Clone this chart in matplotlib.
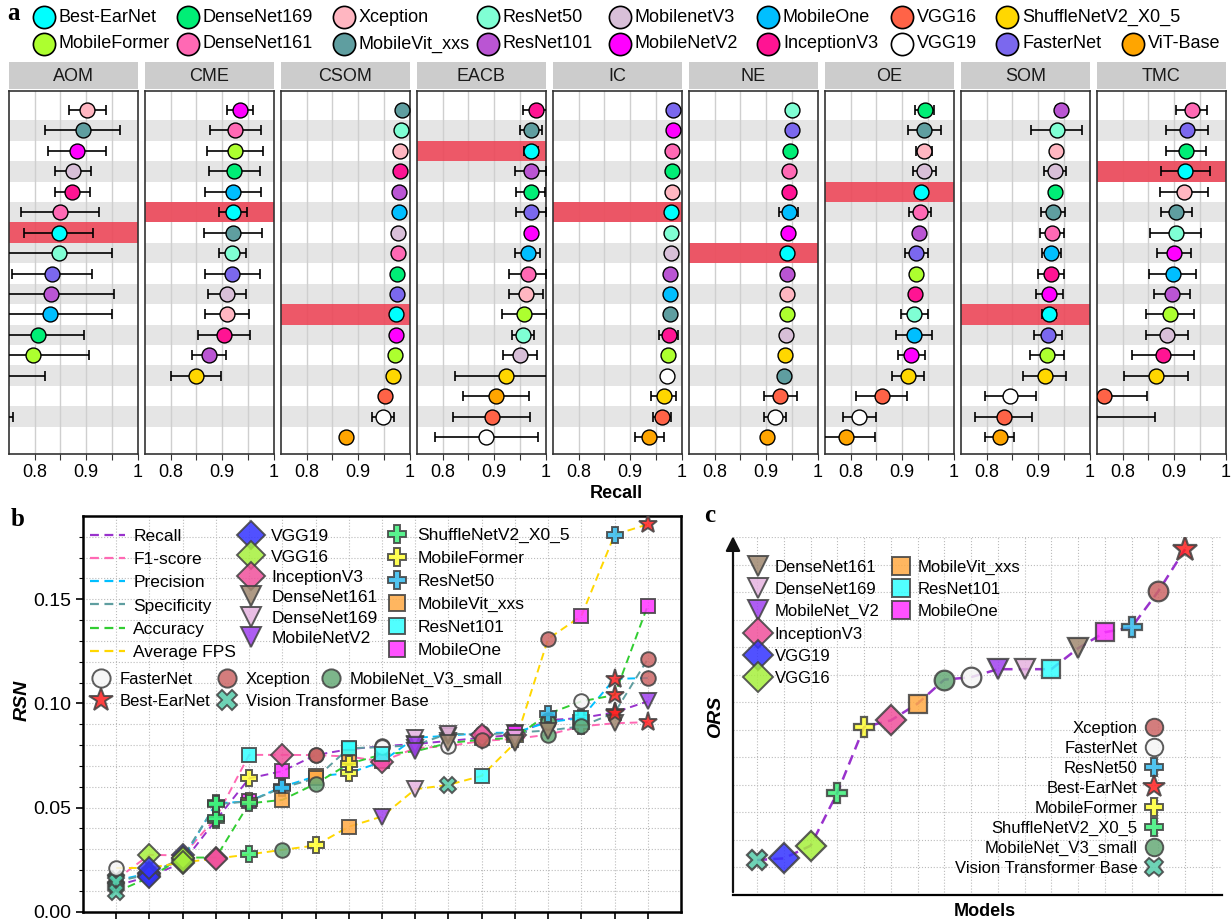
import matplotlib.pyplot as plt
from matplotlib.lines import Line2D
import numpy as np

plt.rcParams['font.family'] = ['Liberation Sans', 'DejaVu Sans']

W, H = 1231, 924
fig = plt.figure(figsize=(W / 100, H / 100), dpi=100)


def fx(px):
    return px / W


def fy(py):
    return 1 - py / H


# ---------------- panel a data: (model, recall, error) top to bottom ----------------
facets = ['AOM', 'CME', 'CSOM', 'EACB', 'IC', 'NE', 'OE', 'SOM', 'TMC']

AOM = [('Xception', .902, .036), ('MobileVit_xxs', .893, .072), ('MobileNetV2', .882, .057),
       ('MobilenetV3', .875, .035), ('InceptionV3', .873, .034), ('DenseNet161', .850, .076),
       ('Best-EarNet', .847, .067), ('ResNet50', .847, .103), ('FasterNet', .833, .078),
       ('ResNet101', .831, .124), ('MobileOne', .830, .120), ('DenseNet169', .806, .090),
       ('MobileFormer', .796, .110), ('ShuffleNetV2_X0_5', .700, .120), ('VGG16', .600, .050),
       ('VGG19', .700, .058), ('ViT-Base', .550, .050)]
CME = [('MobileNetV2', .935, .026), ('DenseNet161', .926, .049), ('MobileFormer', .925, .054),
       ('DenseNet169', .924, .050), ('MobileOne', .921, .054), ('Best-EarNet', .921, .028),
       ('MobileVit_xxs', .921, .056), ('ResNet50', .920, .027), ('FasterNet', .920, .053),
       ('MobilenetV3', .910, .037), ('Xception', .910, .043), ('InceptionV3', .904, .051),
       ('ResNet101', .874, .033), ('ShuffleNetV2_X0_5', .849, .049), ('VGG16', .650, .050),
       ('VGG19', .620, .040), ('ViT-Base', .600, .050)]
CSOM = [('MobileVit_xxs', .985, 0), ('ResNet50', .983, 0), ('Xception', .982, 0),
        ('InceptionV3', .981, .004), ('ResNet101', .980, 0), ('MobileOne', .979, 0),
        ('MobilenetV3', .978, 0), ('DenseNet161', .978, 0), ('DenseNet169', .976, 0),
        ('FasterNet', .976, 0), ('Best-EarNet', .973, 0), ('MobileNetV2', .973, .004),
        ('MobileFormer', .972, 0), ('ShuffleNetV2_X0_5', .967, 0), ('VGG16', .952, 0),
        ('VGG19', .949, .021), ('ViT-Base', .877, 0)]
EACB = [('InceptionV3', .981, .025), ('MobileVit_xxs', .972, .021), ('Best-EarNet', .972, .014),
        ('ResNet101', .971, .030), ('DenseNet169', .971, .028), ('FasterNet', .971, .029),
        ('MobileNetV2', .971, 0), ('MobileOne', .965, .025), ('DenseNet161', .965, .036),
        ('Xception', .962, .033), ('MobileFormer', .959, .043), ('ResNet50', .956, .022),
        ('MobilenetV3', .951, .033), ('ShuffleNetV2_X0_5', .924, .100), ('ViT-Base', .903, .064),
        ('VGG16', .895, .075), ('VGG19', .885, .100)]
IC = [('FasterNet', .984, 0), ('MobileNetV2', .984, 0), ('DenseNet161', .981, 0),
      ('DenseNet169', .981, 0), ('Xception', .981, 0), ('Best-EarNet', .980, 0),
      ('ResNet50', .979, 0), ('MobilenetV3', .979, 0), ('ResNet101', .978, 0),
      ('MobileOne', .977, 0), ('MobileVit_xxs', .977, 0), ('InceptionV3', .975, .019),
      ('MobileFormer', .974, 0), ('VGG19', .971, 0), ('ShuffleNetV2_X0_5', .965, .025),
      ('VGG16', .962, .018), ('ViT-Base', .937, .028)]
NE = [('ResNet50', .950, 0), ('FasterNet', .950, 0), ('DenseNet169', .946, 0),
      ('DenseNet161', .945, 0), ('InceptionV3', .944, 0), ('MobileOne', .944, .018),
      ('MobileNetV2', .943, 0), ('Best-EarNet', .941, 0), ('ResNet101', .941, 0),
      ('Xception', .941, 0), ('MobileFormer', .941, 0), ('MobilenetV3', .938, 0),
      ('ShuffleNetV2_X0_5', .937, 0), ('MobileVit_xxs', .935, 0), ('VGG16', .928, .032),
      ('VGG19', .917, .022), ('ViT-Base', .901, 0)]
OE = [('DenseNet169', .944, .019), ('MobileVit_xxs', .943, .032), ('Xception', .943, .016),
      ('MobilenetV3', .943, .022), ('Best-EarNet', .937, 0), ('DenseNet161', .935, .021),
      ('ResNet101', .933, 0), ('FasterNet', .928, .023), ('MobileFormer', .927, 0),
      ('InceptionV3', .926, 0), ('ResNet50', .924, .026), ('MobileOne', .924, .035),
      ('MobileNetV2', .918, .026), ('ShuffleNetV2_X0_5', .911, .031), ('VGG16', .860, .050),
      ('VGG19', .817, .032), ('ViT-Base', .790, .058)]
SOM = [('ResNet101', .944, .010), ('ResNet50', .936, .050), ('Xception', .935, 0),
       ('MobilenetV3', .933, .021), ('DenseNet169', .932, 0), ('MobileVit_xxs', .929, .023),
       ('DenseNet161', .927, .024), ('MobileOne', .926, .018), ('InceptionV3', .925, .025),
       ('MobileNetV2', .922, .026), ('Best-EarNet', .921, .014), ('FasterNet', .919, .027),
       ('MobileFormer', .917, .033), ('ShuffleNetV2_X0_5', .913, .042), ('VGG19', .846, .049),
       ('VGG16', .833, .055), ('ViT-Base', .825, .029)]
TMC = [('DenseNet161', .934, .030), ('FasterNet', .925, .040), ('DenseNet169', .924, .039),
       ('Best-EarNet', .922, .047), ('Xception', .919, .046), ('MobileVit_xxs', .904, .030),
       ('ResNet50', .903, .049), ('MobileNetV2', .900, .033), ('MobileOne', .897, .045),
       ('ResNet101', .895, .035), ('MobileFormer', .892, .047), ('MobilenetV3', .887, .041),
       ('InceptionV3', .878, .060), ('ShuffleNetV2_X0_5', .865, .063), ('VGG16', .763, .085),
       ('VGG19', .735, .128), ('ViT-Base', .600, .050)]
facet_rows = dict(zip(facets, [AOM, CME, CSOM, EACB, IC, NE, OE, SOM, TMC]))

a_colors = {
    'Best-EarNet': '#00FFFF', 'DenseNet169': '#00EE76', 'Xception': '#FFB6C1',
    'ResNet50': '#7FFFD4', 'MobilenetV3': '#D8BFD8', 'MobileOne': '#00BFFF',
    'VGG16': '#FF6347', 'ShuffleNetV2_X0_5': '#FFD700', 'MobileFormer': '#ADFF2F',
    'DenseNet161': '#FF69B4', 'MobileVit_xxs': '#5F9EA0', 'ResNet101': '#BA55D3',
    'MobileNetV2': '#FF00FF', 'InceptionV3': '#FF1493', 'VGG19': '#FFFFFF',
    'FasterNet': '#7B68EE', 'ViT-Base': '#FFA500'}

legend_row1 = ['Best-EarNet', 'DenseNet169', 'Xception', 'ResNet50', 'MobilenetV3',
               'MobileOne', 'VGG16', 'ShuffleNetV2_X0_5']
legend_row2 = ['MobileFormer', 'DenseNet161', 'MobileVit_xxs', 'ResNet101', 'MobileNetV2',
               'InceptionV3', 'VGG19', 'FasterNet', 'ViT-Base']

# ---------------- panel b data: models in rank order and RSN per metric ----------------
recall_models = ['ViT', 'VGG19', 'VGG16', 'ShuffleNet', 'MobileFormer', 'MobileOne', 'Xception',
                 'ResNet101', 'FasterNet', 'DenseNet169', 'DenseNet161', 'MobileVit',
                 'InceptionV3', 'MNV3s', 'ResNet50', 'Best', 'MobileNetV2']
recall_rsn = [0.0125, 0.017, 0.0235, 0.044, 0.064, 0.0675, 0.0752, 0.078, 0.0795, 0.0805,
              0.082, 0.0835, 0.085, 0.092, 0.093, 0.0957, 0.101]
f1_models = ['ViT', 'VGG16', 'VGG19', 'ShuffleNet', 'ResNet101', 'InceptionV3', 'Xception',
             'MobileVit', 'MobileOne', 'MobileNetV2', 'FasterNet', 'DenseNet169', 'MobileFormer',
             'MNV3s', 'ResNet50', 'DenseNet161', 'Best']
f1_rsn = [0.0155, 0.0273, 0.027, 0.045, 0.0753, 0.0753, 0.0752, 0.0745, 0.0722, 0.0785,
          0.0795, 0.082, 0.083, 0.085, 0.089, 0.0905, 0.091]
precision_models = ['ViT', 'VGG19', 'VGG16', 'ShuffleNet', 'MobileOne', 'ResNet50', 'MobileVit',
                    'MobileFormer', 'InceptionV3', 'DenseNet169', 'DenseNet161', 'FasterNet',
                    'MobileNetV2', 'MNV3s', 'ResNet101', 'Best', 'Xception']
precision_rsn = [0.015, 0.0185, 0.025, 0.052, 0.053, 0.060, 0.065, 0.0665, 0.072, 0.0835,
                 0.0845, 0.0858, 0.086, 0.091, 0.093, 0.1118, 0.1122]
specificity_models = ['ViT', 'VGG19', 'VGG16', 'ShuffleNet', 'MobileFormer', 'ResNet50',
                      'MobileVit', 'ResNet101', 'FasterNet', 'MobileNetV2', 'DenseNet169',
                      'InceptionV3', 'MobileOne', 'DenseNet161', 'MNV3s', 'Best', 'Xception']
specificity_rsn = [0.0145, 0.018, 0.026, 0.0515, 0.053, 0.0595, 0.064, 0.0785, 0.079, 0.080,
                   0.0855, 0.085, 0.086, 0.087, 0.089, 0.0955, 0.1213]
accuracy_models = ['ViT', 'VGG19', 'VGG16', 'InceptionV3', 'ShuffleNet', 'MobileVit', 'MNV3s',
                   'MobileFormer', 'ResNet101', 'MobileNetV2', 'DenseNet161', 'Xception',
                   'DenseNet169', 'ResNet50', 'FasterNet', 'Best', 'MobileOne']
accuracy_rsn = [0.0095, 0.0165, 0.026, 0.026, 0.052, 0.0537, 0.0614, 0.071, 0.0755, 0.077,
                0.081, 0.0826, 0.0835, 0.095, 0.101, 0.104, 0.147]
fps_models = ['FasterNet', 'VGG19', 'VGG16', 'InceptionV3', 'ShuffleNet', 'MNV3s', 'MobileFormer',
              'MobileVit', 'MobileNetV2', 'DenseNet169', 'ViT', 'ResNet101', 'DenseNet161',
              'Xception', 'MobileOne', 'ResNet50', 'Best']
fps_rsn = [0.021, 0.021, 0.0237, 0.0255, 0.0275, 0.0297, 0.0318, 0.0408, 0.0457, 0.0588,
           0.0609, 0.0652, 0.081, 0.131, 0.142, 0.181, 0.186]

metric_names = ['Recall', 'F1-score', 'Precision', 'Specificity', 'Accuracy', 'Average FPS']
metric_colors = ['#9932CC', '#FF69B4', '#00BFFF', '#5F9EA0', '#32CD32', '#FFD700']

# ---------------- panel c data ----------------
ors_models = ['ViT', 'VGG19', 'VGG16', 'ShuffleNet', 'MobileFormer', 'InceptionV3', 'MobileVit',
              'MNV3s', 'FasterNet', 'MobileNetV2', 'DenseNet169', 'ResNet101', 'DenseNet161',
              'MobileOne', 'ResNet50', 'Xception', 'Best']
ors_score = [1.27, 1.33, 1.79, 3.71, 6.10, 6.34, 6.95, 7.82, 7.91, 8.20, 8.20, 8.20, 8.96,
             9.54, 9.72, 11.03, 12.56]

# marker, face colour, size for panels b and c
mstyle = {
    'VGG19': ('D', '#3333FF', 11), 'VGG16': ('D', '#A6F03C', 11), 'InceptionV3': ('D', '#F0509B', 11),
    'DenseNet161': ('v', '#A08870', 11), 'DenseNet169': ('v', '#E6B3E0', 11),
    'MobileNetV2': ('v', '#A040F0', 11), 'ShuffleNet': ('P', '#3CF07A', 11),
    'MobileFormer': ('P', '#FFFF33', 11), 'ResNet50': ('P', '#33BBEE', 11),
    'MobileVit': ('s', '#FFAA44', 10), 'ResNet101': ('s', '#33FFFF', 10),
    'MobileOne': ('s', '#FF33FF', 10), 'FasterNet': ('o', '#F5F5F5', 10.5),
    'Best': ('*', '#FF2020', 14), 'Xception': ('o', '#CC6666', 10.5),
    'MNV3s': ('o', '#66AA77', 10.5), 'ViT': ('X', '#55CCAA', 11)}
b_labels = {'ShuffleNet': 'ShuffleNetV2_X0_5', 'MobileVit': 'MobileVit_xxs', 'Best': 'Best-EarNet',
            'MNV3s': 'MobileNet_V3_small', 'ViT': 'Vision Transformer Base'}


def marker_handle(m, scale=1.0, label=None):
    mk, col, ms = mstyle[m]
    return Line2D([], [], ls='none', marker=mk, ms=ms * scale, mfc=col, mec='#404040', mew=1.4,
                  alpha=0.85, label=label if label else b_labels.get(m, m))


# ================= panel a =================
for i, name in enumerate(facets):
    left = 9 + 136 * i
    ax = fig.add_axes([fx(left), fy(454), fx(128.5), (454 - 91) / H])
    rows = facet_rows[name]
    for r in range(2, len(rows) + 1, 2):
        ax.axhspan(r - 0.5, r + 0.5, color='#E5E5E5', lw=0, zorder=0)
    for gx in [0.8, 0.85, 0.9, 0.95]:
        ax.axvline(gx, color='#CFCFCF', lw=1, zorder=1)
    for r, (m, v, e) in enumerate(rows, start=1):
        if m == 'Best-EarNet':
            ax.axhspan(r - 0.5, r + 0.5, color='#EC4A5B', alpha=0.92, lw=0, zorder=2)
        if e > 0:
            ax.errorbar(v, r, xerr=e, fmt='none', ecolor='black', elinewidth=1.2,
                        capsize=3.5, capthick=1.2, zorder=3)
        ax.scatter(v, r, s=115, c=a_colors[m], edgecolors='black', linewidths=1, zorder=4)
    ax.set_xlim(0.75, 1.0)
    ax.set_ylim(17.83, 0.07)
    ax.set_yticks([])
    ax.set_xticks([0.8, 0.85, 0.9, 0.95, 1.0])
    ax.set_xticklabels(['0.8', '', '0.9', '', '1'])
    ax.tick_params(axis='x', direction='out', length=4, labelsize=13, color='#333333', pad=3)
    for s in ax.spines.values():
        s.set_color('#333333')
        s.set_linewidth(1.2)
    st = fig.add_axes([fx(left), fy(89), fx(128.5), 27 / H])
    st.set_facecolor('#CCCCCC')
    st.set_xticks([])
    st.set_yticks([])
    for s in st.spines.values():
        s.set_visible(False)
    st.text(0.5, 0.47, name, ha='center', va='center', fontsize=13, color='#1A1A1A')

fig.text(fx(616), fy(493), 'Recall', ha='center', va='center', fontsize=13, fontweight='bold')

# top legend, two rows
col_x = [44, 188, 344, 488, 620, 768, 902, 1007, 1133]
for row_y, names in [(17, legend_row1), (44, legend_row2)]:
    for cx, m in zip(col_x, names):
        fig.add_artist(Line2D([fx(cx)], [fy(row_y)], transform=fig.transFigure, marker='o',
                              ms=16, mfc=a_colors[m], mec='black', mew=1.2, ls='none'))
        fig.text(fx(cx + 15), fy(row_y), m, ha='left', va='center', fontsize=13)

# ================= panel b =================
axb = fig.add_axes([fx(83), fy(911.7), fx(598), (911.7 - 516) / H])
series = [(recall_models, recall_rsn), (f1_models, f1_rsn), (precision_models, precision_rsn),
          (specificity_models, specificity_rsn), (accuracy_models, accuracy_rsn),
          (fps_models, fps_rsn)]
for (models, vals), col in zip(series, metric_colors):
    xs = np.arange(len(vals))
    axb.plot(xs, vals, color=col, lw=1.4, dashes=(4, 2.5), zorder=2)
for models, vals in series:
    for x, m, v in zip(np.arange(len(vals)), models, vals):
        mk, c, ms = mstyle[m]
        axb.plot(x, v, ls='none', marker=mk, ms=ms, mfc=c, mec='#404040', mew=1.4,
                 alpha=0.85, zorder=3)
axb.set_xlim(-1, 17)
axb.set_ylim(0, 0.19)
axb.set_xticks(np.arange(17))
axb.set_xticklabels([])
axb.set_yticks([0, 0.05, 0.10, 0.15])
axb.set_yticklabels(['0.00', '0.05', '0.10', '0.15'])
axb.set_yticks(np.arange(0, 0.19, 0.01), minor=True)
axb.grid(which='both', ls=':', color='#BBBBBB', lw=0.8, zorder=0)
axb.set_axisbelow(True)
axb.tick_params(axis='both', which='major', direction='out', length=5, width=1.2, labelsize=14)
axb.tick_params(axis='y', which='minor', direction='out', length=3, width=0.8)
for s in axb.spines.values():
    s.set_linewidth(1.8)
fig.text(fx(22), fy(700), 'RSN', rotation=90, ha='center', va='center', fontsize=14,
         fontweight='bold', fontstyle='italic')

line_handles = [Line2D([], [], color=c, lw=1.6, dashes=(4, 2.5), label=n)
                for n, c in zip(metric_names, metric_colors)]
leg_kw = dict(frameon=False, fontsize=12.5, borderpad=0, borderaxespad=0,
              bbox_transform=fig.transFigure, handletextpad=0.5)
l1 = axb.legend(handles=line_handles, loc='upper left', bbox_to_anchor=(fx(90), fy(529)),
                labelspacing=0.46, handlelength=2.0, **leg_kw)
axb.add_artist(l1)
l2 = axb.legend(handles=[marker_handle(m, 1.3) for m in
                         ['VGG19', 'VGG16', 'InceptionV3', 'DenseNet161', 'DenseNet169', 'MobileNetV2']],
                loc='upper left', bbox_to_anchor=(fx(240), fy(529)), labelspacing=0.3,
                handlelength=1.3, **leg_kw)
axb.add_artist(l2)
l3 = axb.legend(handles=[marker_handle(m, 1.2) for m in
                         ['ShuffleNet', 'MobileFormer', 'ResNet50', 'MobileVit', 'ResNet101', 'MobileOne']],
                loc='upper left', bbox_to_anchor=(fx(386), fy(528)), labelspacing=0.45,
                handlelength=1.3, **leg_kw)
axb.add_artist(l3)
leg_kw4 = dict(leg_kw, fontsize=12)
l4 = axb.legend(handles=[marker_handle(m, 1.25) for m in ['FasterNet', 'Best', 'Xception', 'ViT']],
                loc='upper left', bbox_to_anchor=(fx(90), fy(672)), ncol=2, labelspacing=0.4,
                handlelength=1.3, columnspacing=0.3, **leg_kw4)
axb.add_artist(l4)
axb.legend(handles=[marker_handle('MNV3s', 1.25)], loc='upper left',
           bbox_to_anchor=(fx(320), fy(672)), handlelength=1.3, **leg_kw4)

# ================= panel c =================
axc = fig.add_axes([fx(733), fy(895), fx(1222 - 733), (895 - 537) / H])
xc = np.arange(len(ors_score))
axc.plot(xc, ors_score, color='#9932CC', lw=1.8, dashes=(4, 2.5), zorder=2)
for x, m, v in zip(xc, ors_models, ors_score):
    mk, c, ms = mstyle[m]
    axc.plot(x, v, ls='none', marker=mk, ms=ms * 1.35, mfc=c, mec='#404040', mew=1.6,
             alpha=0.85, zorder=3)
axc.set_xlim(-0.9, 17.38)
axc.set_ylim(0, 13)
axc.set_xticks(np.arange(18))
axc.set_yticks(np.arange(1, 14))
axc.tick_params(length=0, labelbottom=False, labelleft=False)
axc.grid(ls=':', color='#BBBBBB', lw=0.8)
axc.set_axisbelow(True)
axc.spines['top'].set_visible(False)
axc.spines['right'].set_visible(False)
axc.spines['left'].set_visible(False)
axc.spines['bottom'].set_linewidth(1.6)
axc.annotate('', xy=(0, 1.01), xytext=(0, 0), xycoords='axes fraction',
             arrowprops=dict(arrowstyle='-|>', color='#111111', lw=1.6, mutation_scale=22))
fig.text(fx(716), fy(717), 'ORS', rotation=90, ha='center', va='center', fontsize=14,
         fontweight='bold', fontstyle='italic')
fig.text(fx(985), fy(912), 'Models', ha='center', va='center', fontsize=13, fontweight='bold')

c_labels = {'MobileNetV2': 'MobileNet_V2'}
lc_kw = dict(frameon=False, fontsize=12, borderpad=0, borderaxespad=0,
             bbox_transform=fig.transFigure, handletextpad=0.4)
lc1 = axc.legend(handles=[marker_handle(m, 1.25, c_labels.get(m)) for m in
                          ['DenseNet161', 'DenseNet169', 'MobileNetV2', 'MobileVit', 'ResNet101', 'MobileOne']],
                 loc='upper left', bbox_to_anchor=(fx(748), fy(560)), ncol=2, labelspacing=0.42,
                 handlelength=1.2, columnspacing=0.7, **lc_kw)
axc.add_artist(lc1)
lc2 = axc.legend(handles=[marker_handle(m, 1.35) for m in ['InceptionV3', 'VGG19', 'VGG16']],
                 loc='upper left', bbox_to_anchor=(fx(748), fy(627)), labelspacing=0.42,
                 handlelength=1.2, **lc_kw)
axc.add_artist(lc2)
axc.legend(handles=[marker_handle(m, 1.2) for m in
                    ['Xception', 'FasterNet', 'ResNet50', 'Best', 'MobileFormer', 'ShuffleNet',
                     'MNV3s', 'ViT']],
           loc='lower right', bbox_to_anchor=(fx(1164), fy(876)), markerfirst=False,
           labelspacing=0.3, handlelength=1.2, **lc_kw)

# panel letters
for letter, (px, py) in {'a': (14, 14), 'b': (18, 520), 'c': (710, 516)}.items():
    fig.text(fx(px), fy(py), letter, ha='center', va='center', fontsize=18, fontweight='bold',
             family=['Liberation Serif', 'DejaVu Serif'])

fig.savefig('out.png', dpi=100)
